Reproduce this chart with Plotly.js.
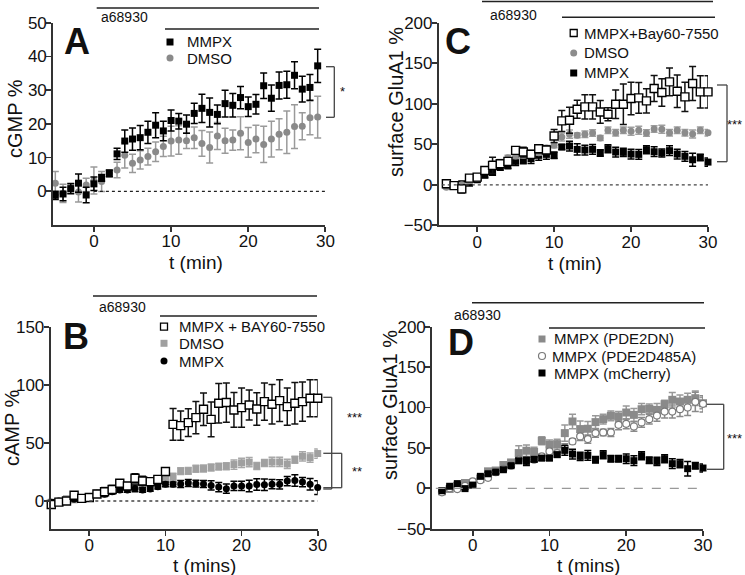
<!DOCTYPE html>
<html><head><meta charset="utf-8">
<script src="https://cdn.plot.ly/plotly-3.0.1.min.js"></script>
<style>html,body{margin:0;padding:0;background:#fff}#chart{width:745px;height:575px}</style>
</head><body><div id="chart"></div>
<script>
// ---------- DATA ----------
// Panel A: cGMP %
const tA = [-5,-4,-3,-2,-1,0,1,2,3,4,5,6,7,8,9,10,11,12,13,14,15,16,17,18,19,20,21,22,23,24,25,26,27,28,29];
const A_names = ["MMPX","DMSO"];
const A_mmpx = [-1.2,-0.8,0.8,2.4,-1.1,2.2,4.0,5.3,11.1,14.9,15.5,15.9,17.5,19.6,17.9,21.0,20.8,19.9,23.1,24.6,23.4,22.8,26.0,25.5,27.8,25.1,25.8,31.3,27.6,31.4,31.6,34.4,30.3,30.8,37.2];
const A_mmpx_err = [1.2,2,1.5,2.7,2.3,2,1,1,1.7,3.3,3.3,3.6,3.3,3.7,2.9,3.1,2.3,2.7,3,4.2,4.3,2.8,4,3.5,3.3,2.9,2.9,3.8,3.9,4,4,4,3.8,3.8,4.9];
const A_dmso = [2.4,-0.6,0.8,-0.2,1.9,3.2,2.9,5.3,6.3,10.7,8.3,9.3,10.3,11.7,13.3,14.9,15.2,15.0,15.9,14.2,13.0,16.4,15.0,15.2,17.2,14.5,15.5,13.9,15.5,16.9,17.5,19.2,19.3,21.8,22.0];
const A_dmso_err = [3.5,2.7,1.3,3,2,4,3,1,2.3,3.8,2.7,2.7,2.5,2.9,3,4.4,4.2,2.3,3.2,3.8,4.6,4,3.7,3,4.9,4.4,4.1,5.4,5.3,4.6,6.3,6.5,4,5,6.2];

// Panel C: surface GluA1 %
const tC = [-4,-3,-2,-1,0,1,2,3,4,5,6,7,8,9,10,11,12,13,14,15,16,17,18,19,20,21,22,23,24,25,26,27,28,29,30];
const C_names = ["MMPX+Bay60-7550","DMSO","MMPX"];
const C_bay = [1.2,-1,-5,8.2,9.5,17.7,24,26,28.9,42.5,40.4,37.5,44.5,43,60.2,78.8,79.6,93.2,96.1,96.1,89.9,87,99.4,99.4,106.4,107.2,103.5,118.8,113.8,127,115.5,108.5,125,114.6,114.6];
const C_bay_err = [3,2,5,3,3,4,10,4,4,4,6,5,5,5,8,13,16,11,15,15,14,8,17.5,25,20,19,15,16,17,17,20,18,21,20,20];
const C_dmso = [-3,-1,0,5,8,18,24.7,27.2,33.4,35.5,36.3,37,39.6,45.4,48.7,59,62.5,61,62.3,63.9,57.7,67.2,64.3,67.2,66,67.2,63.9,68.9,68.5,64.3,67.2,64.3,62.7,67.2,64.3];
const C_dmso_err = [2,2,2,3,3,4,5,4,3,3,3,3,3,3,3,5,5,3,4,4,3,4,4,4,5,5,4,4,5,4,4,4,5,4,4];
const C_mmpx = [-0.8,-0.8,1.2,2,6.2,12.4,15.7,21.9,23.9,28.9,30.9,32.2,36.3,37.5,36.3,46.6,47.8,43.7,42.9,43.7,39.2,44.5,40.4,40.0,37.9,37.5,43.3,40.8,39.2,42.1,37.9,35.1,30.9,33.8,28.0];
const C_mmpx_err = [3,2,3,3,3,4,4,4,4,5,5,6,6,6,4,3,6,7,6,6,4,5,6,5,6,6,5,6,5,6,6,6,8,4,5];

// Panel B: cAMP %
const tB = [-5,-4,-3,-2,-1,0,1,2,3,4,5,6,7,8,9,10,11,12,13,14,15,16,17,18,19,20,21,22,23,24,25,26,27,28,29,30];
const B_names = ["MMPX + BAY60-7550","DMSO","MMPX"];
const B_bay = [-3,-1,0,5,2.3,3,6,8,10,15.3,13,19.6,17.3,16.7,18.7,25.5,66.2,65.1,67.7,72,79.2,70.5,84.4,85,78.6,80.6,82.9,79.5,85.8,83.5,86.7,81.5,84.4,85.8,88.7,88.7];
const B_bay_err = [1,1,1,1,1,1,1,1,1,2,1,4,4,2,2,3,13.7,12.7,12,14,14,15,17,17,15,17,13,14,16,17,18,16,18,17,16,16];
const B_dmso = [-1,0,2,1,2.5,3.7,7,9.5,11.5,13,13.5,11.8,12.4,17.3,16,18.7,21,25.8,26,27.8,28,29,29.7,30,31.5,33,33.5,30.2,32.8,33.7,33.7,32,35.7,38.6,37.5,41];
const B_dmso_err = [1,1,1,1,1,1,2,2,2,2,2,2,2,2,2,3,3,3,3,3,3,3,3,3,4,4,4,3,3,4,4,4,3,4,4,4];
const B_mmpx = [-1,0,0.5,1.5,2.3,3.7,6.6,5.8,8,9.5,9.5,10.9,9.5,10.4,12.4,14.4,14.4,14.7,15.5,15,14.7,13.4,12,10.6,13,13,13,14.2,14,14.5,14.4,17.2,17.7,16.4,14.5,11.6];
const B_mmpx_err = [2,1,1,1,1,1,2,2,2,2,2,3,2,2,2,2,2,3,3,3,3,4,4,4,4,4,5,5,5,4,4,4,5,4,5,6];

// Panel D: surface GluA1 %
const tD = [-4,-3,-2,-1,0,1,2,3,4,5,6,7,8,9,10,11,12,13,14,15,16,17,18,19,20,21,22,23,24,25,26,27,28,29,30];
const D_names = ["MMPX (PDE2DN)","MMPX (PDE2D485A)","MMPX (mCherry)"];
const D_dn = [-3.7,-0.8,3.3,6.6,4.5,11.5,21,22,28.8,32,43.6,46.5,44.9,58.8,53.9,54.7,68.3,82.7,73.3,73.7,81.9,85.6,89.7,88.9,93.8,90.9,97.9,98.4,97.1,104.1,109.5,107.4,109.5,111.5,105.3];
const D_dn_err = [2,2,2,2,2,3,3,3,3,3,9,7,6,5,6,6,10,9,10,9,8,6,6,6,8,8,7,6,8,5,9,8,8,9,7];
const D_485 = [-5,0,-1,3,8.6,10,13,20,24,28,35.4,34.6,35.4,39.5,45.7,43.6,50,58,64.2,60.9,68.3,69.1,69.1,78.6,79.8,76.5,81.5,85.6,90,95,95,97.9,100,107,104.5];
const D_485_err = [2,2,2,2,2,2,2,2,2,2,3,3,3,3,3,3,5,3,5,5,5,4,5,6,6,6,6,6,7,8,8,9,10,12,10];
const D_mch = [-3,2.5,5.8,-0.4,4,14.8,18,20,23,28,34,33.3,35.8,37.4,37.4,41.6,46.9,42.4,39.5,40.7,35.4,41.6,36.6,36.6,36.6,34.2,40.3,34.6,33.3,36.6,30.5,30.5,24.3,28,25.1];
const D_mch_err = [1,1,1,1,1,2,2,2,2,2,3,5,3,3,3,3,6,6,5,6,4,5,4,4,6,6,5,4,5,5,6,5,9,4,5];

const xTicks = [0,10,20,30];
const yTicksA = [0,10,20,30,40,50];
const yTicksB = [0,50,100,150];
const yTicksCD = [-50,0,50,100,150,200];
const drugLabel = "a68930";
const xTitles = ["t (min)", "t (min)", "t (mins)", "t (mins)"];
const yTitles = ["cGMP %", "surface GluA1 %", "cAMP %", "surface GluA1 %"];

// ---------- LAYOUT HELPERS ----------
const W = 745, H = 575;
const px = v => v / W, py = v => 1 - v / H;
const FONT = "Liberation Sans, Arial, Helvetica, sans-serif";
const AX = '#333';

function tr(t, v, e, xa, ya, marker, ecol, name) {
  return {type:'scatter', mode:'markers', name:name, x:t, y:v, xaxis:xa, yaxis:ya, cliponaxis:false, showlegend:false,
    marker:marker, error_y:{type:'data', array:e, visible:true, color:ecol, thickness:1.5, width:3.5}};
}
const sqBlack = {symbol:'square', size:7, color:'#000'};
const sqOpen = {symbol:'square', size:8, color:'#fff', line:{color:'#000', width:1.4}};

const data = [
  // A
  tr(tA, A_dmso, A_dmso_err, 'x', 'y', {symbol:'circle', size:7, color:'#8a8a8a'}, '#9a9a9a', A_names[1]),
  tr(tA, A_mmpx, A_mmpx_err, 'x', 'y', sqBlack, '#000', A_names[0]),
  // C
  tr(tC, C_mmpx, C_mmpx_err, 'x2', 'y2', sqBlack, '#000', C_names[2]),
  tr(tC, C_dmso, C_dmso_err, 'x2', 'y2', {symbol:'circle', size:7, color:'#8c8c8c'}, '#a0a0a0', C_names[1]),
  tr(tC, C_bay, C_bay_err, 'x2', 'y2', sqOpen, '#111', C_names[0]),
  // B
  tr(tB, B_dmso, B_dmso_err, 'x3', 'y3', {symbol:'square', size:7, color:'#a0a0a0'}, '#a8a8a8', B_names[1]),
  tr(tB, B_mmpx, B_mmpx_err, 'x3', 'y3', {symbol:'circle', size:7, color:'#000'}, '#000', B_names[2]),
  tr(tB, B_bay, B_bay_err, 'x3', 'y3', sqOpen, '#111', B_names[0]),
  // D
  tr(tD, D_dn, D_dn_err, 'x4', 'y4', {symbol:'square', size:8, color:'#8a8a8a'}, '#999', D_names[0]),
  tr(tD, D_485, D_485_err, 'x4', 'y4', {symbol:'circle', size:7, color:'#fff', line:{color:'#7a7a7a', width:1.2}}, '#8a8a8a', D_names[1]),
  tr(tD, D_mch, D_mch_err, 'x4', 'y4', sqBlack, '#000', D_names[2]),
];

function xAxis(d0, d1, range, anchor) {
  return {domain:[px(d0), px(d1)], range:range, anchor:anchor, showline:true, linecolor:AX, linewidth:1.8,
    ticks:'outside', ticklen:5, tickwidth:1.8, tickcolor:AX, tickvals:xTicks, showgrid:false, zeroline:false,
    ticklabelstandoff:-5, tickfont:{size:17, color:'#111'}};
}
function yAxis(top, bottom, range, anchor, tv) {
  return {domain:[py(bottom), py(top)], range:range, anchor:anchor, showline:true, linecolor:AX, linewidth:1.8,
    ticks:'outside', ticklen:5, tickwidth:1.8, tickcolor:AX, tickvals:tv, showgrid:false, zeroline:false,
    ticklabelstandoff:-4, tickfont:{size:17, color:'#111'}};
}

const shapes = [];
const annotations = [];
function line(x0, y0, x1, y1, col, w) {
  shapes.push({type:'line', xref:'paper', yref:'paper', x0:px(x0), y0:py(y0), x1:px(x1), y1:py(y1), line:{color:col||'#222', width:w||1.5}});
}
function bracket(x0, x1, yt, yb) { line(x0, yt, x1, yt, '#444', 1.3); line(x1, yt, x1, yb, '#444', 1.3); line(x0, yb, x1, yb, '#444', 1.3); }
function txt(x, y, s, size, xa, opts) {
  annotations.push(Object.assign({xref:'paper', yref:'paper', x:px(x), y:py(y), text:s, showarrow:false,
    xanchor:xa||'left', yanchor:'middle', font:{size:size, color:'#111', family:FONT}}, opts||{}));
}
function legSq(cx, cy, fill, stroke) {
  shapes.push({type:'rect', xref:'paper', yref:'paper', x0:px(cx-3.5), x1:px(cx+3.5), y0:py(cy+3.5), y1:py(cy-3.5),
    fillcolor:fill, line:{color:stroke||fill, width:stroke?1.3:0}});
}
function legCi(cx, cy, fill, stroke) {
  shapes.push({type:'circle', xref:'paper', yref:'paper', x0:px(cx-3.5), x1:px(cx+3.5), y0:py(cy+3.5), y1:py(cy-3.5),
    fillcolor:fill, line:{color:stroke||fill, width:stroke?1.2:0}});
}
function zero(xa, ya, x0, dash, col) {
  shapes.push({type:'line', xref:xa, yref:ya, x0:x0, x1:30, y0:0, y1:0, line:{color:col, width:1.3, dash:dash}});
}

// zero lines
zero('x', 'y', 0, 'dot', '#222');
zero('x2', 'y2', -4.6, 'dot', '#444');
zero('x3', 'y3', 0, 'dot', '#444');
zero('x4', 'y4', -4.8, 'dash', '#999');

// axis titles
txt(196, 262, xTitles[0], 19, 'center');
txt(575, 263, xTitles[1], 19, 'center');
txt(204, 565, xTitles[2], 19, 'center');
txt(588, 565, xTitles[3], 19, 'center');
txt(15, 119, yTitles[0], 20, 'center', {textangle:-90});
txt(396, 102, yTitles[1], 20, 'center', {textangle:-90});
txt(12, 428, yTitles[2], 20, 'center', {textangle:-90});
txt(390, 405, yTitles[3], 20, 'center', {textangle:-90});

// Panel A decorations
line(96.7, 8, 319, 8); txt(99, 17, drugLabel, 14); line(165, 29, 319, 29);
txt(62, 41, '<b>A</b>', 36);
legSq(170, 42, '#000'); txt(185, 42, A_names[0], 15);
legCi(170, 58, '#8a8a8a'); txt(185, 58, A_names[1], 15);
bracket(326, 334.3, 66.7, 117.3); txt(338, 91, '*', 13);

// Panel C decorations
line(482, 1.5, 713, 1.5); txt(488, 15, drugLabel, 14); line(562, 17.3, 715, 17.3);
txt(443, 41, '<b>C</b>', 36);
legSq(573.7, 33, '#fff', '#000'); txt(582, 33, C_names[0], 15);
legCi(573.7, 53, '#8c8c8c'); txt(582, 53, C_names[1], 15);
legSq(573.7, 73, '#000'); txt(582, 73, C_names[2], 15);
bracket(717, 727, 85, 161.7); txt(744, 124, '***', 13, 'right');

// Panel B decorations
line(93, 296, 317, 296); txt(97, 307, drugLabel, 14); line(160, 316, 317, 316);
txt(61, 336, '<b>B</b>', 36);
legSq(164, 326.7, '#fff', '#000'); txt(177, 326.7, B_names[0], 15);
legSq(164, 343.3, '#a0a0a0'); txt(177, 343.3, B_names[1], 15);
legCi(164, 361, '#000'); txt(177, 361, B_names[2], 15);
bracket(323.3, 331.7, 397.3, 489); txt(345, 417, '***', 13);
bracket(323.3, 341.7, 453.3, 487.7); txt(350, 471, '**', 13);

// Panel D decorations
line(472, 302.7, 704, 302.7); txt(452, 315, drugLabel, 14); line(549, 328, 705, 328);
txt(446, 342, '<b>D</b>', 36);
legSq(542, 339, '#8a8a8a'); txt(552, 339, D_names[0], 15);
legCi(542, 356, '#fff', '#7a7a7a'); txt(549.5, 356, D_names[1], 15);
legSq(542, 373, '#000'); txt(552, 373, D_names[2], 15);
bracket(707, 723.7, 404.3, 469.3); txt(744, 438, '***', 13, 'right');

const layout = {
  width:W, height:H, margin:{l:0, r:0, t:0, b:0}, paper_bgcolor:'#fff', plot_bgcolor:'rgba(0,0,0,0)',
  font:{family:FONT, color:'#111'}, showlegend:false,
  xaxis: xAxis(53, 325.4, [-5.3, 30], 'y'),
  yaxis: yAxis(22.7, 225, [-10, 50], 'x', yTicksA),
  xaxis2: xAxis(438.7, 708, [-5, 30], 'y2'),
  yaxis2: yAxis(22.7, 225.3, [-50, 200], 'x2', yTicksCD),
  xaxis3: xAxis(50.5, 317.7, [-5.1, 30], 'y3'),
  yaxis3: yAxis(327.3, 528.8, [-24, 150], 'x3', yTicksB),
  xaxis4: xAxis(432, 703, [-5.3, 30], 'y4'),
  yaxis4: yAxis(326.7, 528.7, [-50, 200], 'x4', yTicksCD),
  shapes: shapes, annotations: annotations
};

Plotly.newPlot('chart', data, layout, {displayModeBar:false, staticPlot:true});
</script></body></html>
